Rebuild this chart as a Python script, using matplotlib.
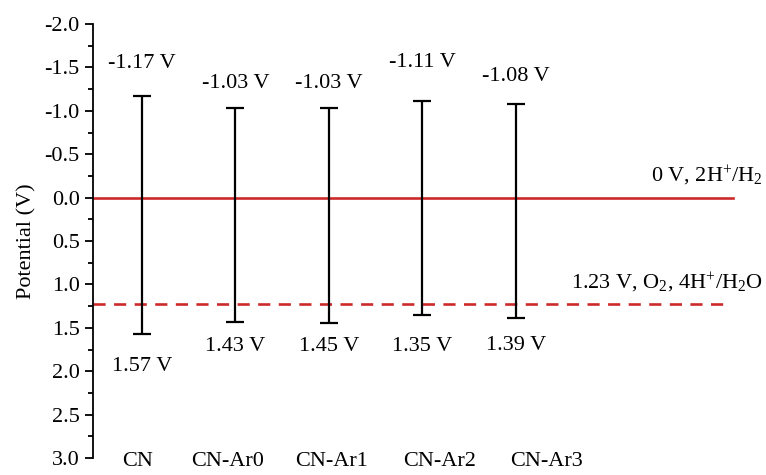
import matplotlib.pyplot as plt

plt.rcParams['font.family'] = ['Liberation Serif', 'DejaVu Serif']
plt.rcParams['mathtext.fontset'] = 'custom'
plt.rcParams['mathtext.rm'] = 'Liberation Serif'
plt.rcParams['mathtext.it'] = 'Liberation Serif:italic'

samples = ['CN', 'CN-Ar0', 'CN-Ar1', 'CN-Ar2', 'CN-Ar3']
cb_edge = [-1.17, -1.03, -1.03, -1.11, -1.08]   # conduction band (V)
vb_edge = [1.57, 1.43, 1.45, 1.35, 1.39]        # valence band (V)
h2_level = 0.0
o2_level = 1.23

# where the value labels sit
cb_label_y = [-1.55, -1.32, -1.32, -1.56, -1.39]
vb_label_y = [1.95, 1.72, 1.72, 1.72, 1.70]
name_x = [-0.05, 0.91, 2.03, 3.18, 4.33]

fig = plt.figure(figsize=(7.66, 4.75), dpi=100)
ax = fig.add_axes([93 / 766, 17 / 475, 673 / 766, 434 / 475])

red = '#cc2a2a'
ax.axhline(h2_level, xmin=0, xmax=0.951, color=red, lw=1.9, zorder=1)
ax.axhline(o2_level, xmin=0, xmax=0.936, color=red, lw=1.9,
           dashes=(4.6, 3.2), zorder=1)

x = list(range(len(samples)))
mid = [(a + b) / 2 for a, b in zip(cb_edge, vb_edge)]
half = [(b - a) / 2 for a, b in zip(cb_edge, vb_edge)]
ax.errorbar(x, mid, yerr=half, fmt='none', ecolor='black', elinewidth=1.6,
            capsize=6.8, capthick=1.6, zorder=3)

for xi, v, ly in zip(x, cb_edge, cb_label_y):
    ax.text(xi, ly, f'{v:.2f} V', ha='center', va='center', fontsize=16)
for xi, v, ly in zip(x, vb_edge, vb_label_y):
    ax.text(xi, ly, f'{v:.2f} V', ha='center', va='center', fontsize=16)

ax.text(6.64, -0.25, '0 V, 2H$^{+}$/H$_{2}$', ha='right', va='center',
        fontsize=16, clip_on=False)
ax.text(6.64, 0.98, '1.23 V, O$_{2}$, 4H$^{+}$/H$_{2}$O', ha='right',
        va='center', fontsize=16, clip_on=False)

ax.set_ylim(3.0, -2.0)
ax.set_xlim(-0.524, 6.674)
ax.set_yticks([-2.0, -1.5, -1.0, -0.5, 0.0, 0.5, 1.0, 1.5, 2.0, 2.5, 3.0])
ax.set_yticklabels(['-2.0', '-1.5', '-1.0', '-0.5', '0.0', '0.5', '1.0',
                    '1.5', '2.0', '2.5', '3.0'], fontsize=16)
ax.set_yticks([-1.75, -1.25, -0.75, -0.25, 0.25, 0.75, 1.25, 1.75, 2.25, 2.75],
              minor=True)
ax.tick_params(axis='y', which='major', direction='out', length=6, width=1.3, pad=3.5)
ax.tick_params(axis='y', which='minor', direction='out', length=3.5, width=1.3)
ax.set_ylabel('Potential (V)', fontsize=16, labelpad=6)

ax.set_xticks(name_x)
ax.set_xticklabels(samples, fontsize=16)
ax.tick_params(axis='x', length=0, pad=-4)

for side in ['top', 'right', 'bottom']:
    ax.spines[side].set_visible(False)
ax.spines['left'].set_linewidth(1.3)

fig.savefig('out.png', dpi=100)
